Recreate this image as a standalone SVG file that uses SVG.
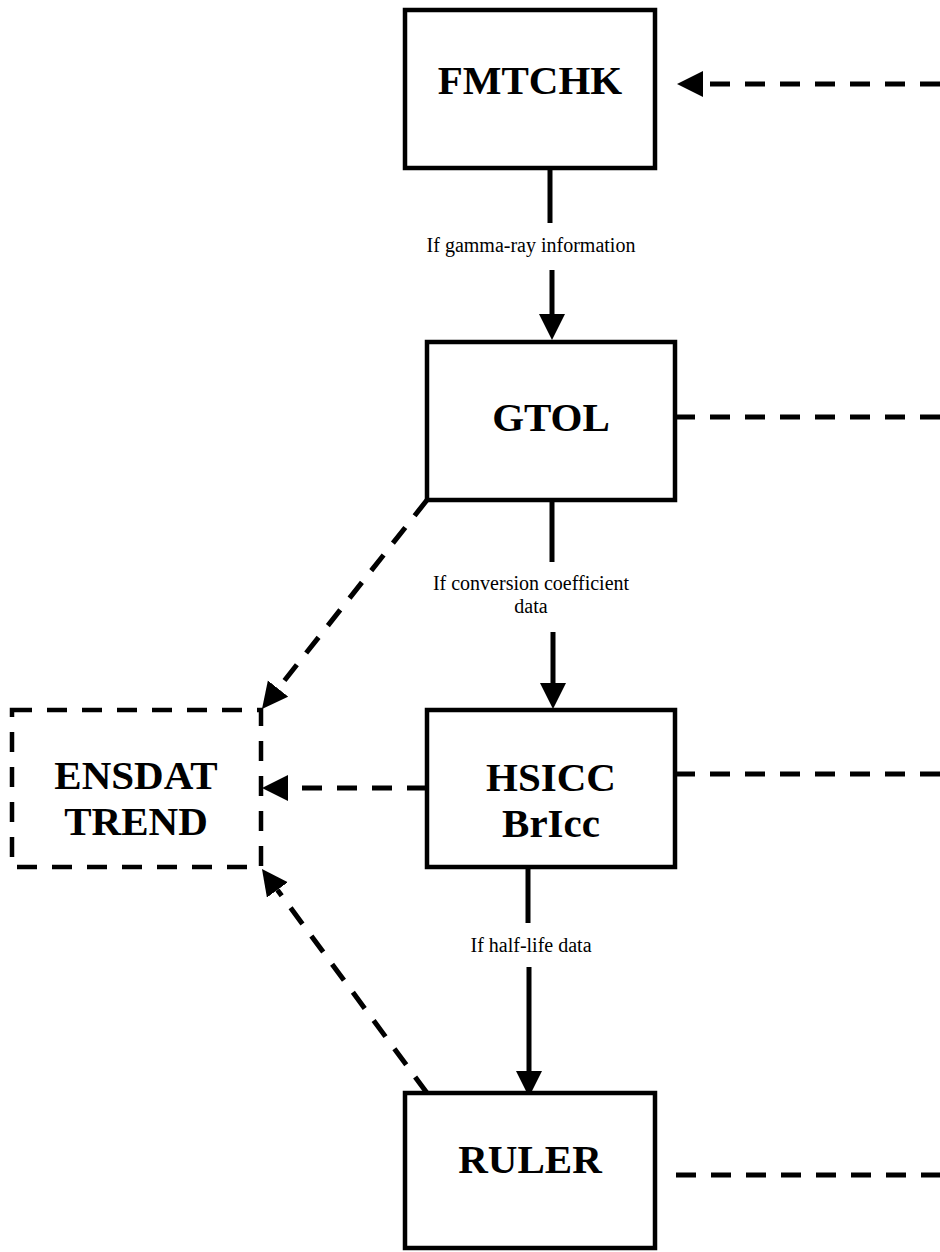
<svg xmlns="http://www.w3.org/2000/svg" width="940" height="1252" viewBox="0 0 940 1252">
<defs>
<style>
.box{fill:#fff;stroke:#000;stroke-width:4.5}
.dbox{fill:#fff;stroke:#000;stroke-width:4.5;stroke-dasharray:20 15}
.node{font-family:"Liberation Serif","Times New Roman",serif;font-weight:bold;font-size:41px;text-anchor:middle;fill:#000}
.lbl{font-family:"Liberation Serif","Times New Roman",serif;font-size:20px;text-anchor:middle;fill:#000}
.solid{fill:none;stroke:#000;stroke-width:5}
.dash{fill:none;stroke:#000;stroke-width:5;stroke-dasharray:20 15}
</style>
<marker id="ah" markerUnits="userSpaceOnUse" markerWidth="28" markerHeight="28" refX="0" refY="13" orient="auto">
<path d="M0,0 L26,13 L0,26 Z" fill="#000"/>
</marker>
</defs>
<rect width="940" height="1252" fill="#fff"/>
<g id="connectors">
<path class="dash" d="M940,84 L703,84" marker-end="url(#ah)"/>
<path class="solid" d="M550,168 L550,223"/>
<path class="solid" d="M552,270 L552,314" marker-end="url(#ah)"/>
<path class="dash" d="M675,417 L940,417"/>
<path class="dash" d="M427,500 L278.1,688.6" marker-end="url(#ah)"/>
<path class="solid" d="M552,500 L552,562"/>
<path class="solid" d="M553,632 L553,683" marker-end="url(#ah)"/>
<path class="dash" d="M427,788 L288,788" marker-end="url(#ah)"/>
<path class="dash" d="M675,774 L940,774"/>
<path class="solid" d="M528,867 L528,923"/>
<path class="solid" d="M529,967 L529,1071" marker-end="url(#ah)"/>
<path class="dash" d="M427,1093 L277.4,889.9" marker-end="url(#ah)"/>
<path class="dash" d="M676,1175 L940,1175"/>
<text class="lbl" x="531" y="252">If gamma-ray information</text>
<text class="lbl" x="531" y="590">If conversion coefficient</text>
<text class="lbl" x="531" y="613">data</text>
<text class="lbl" x="531" y="952">If half-life data</text>
</g>
<g id="FMTCHK">
<rect class="box" x="405" y="10" width="250" height="158"/>
<text class="node" x="530" y="94">FMTCHK</text>
</g>
<g id="GTOL">
<rect class="box" x="427" y="342" width="248" height="158"/>
<text class="node" x="551" y="431">GTOL</text>
</g>
<g id="HSICC">
<rect class="box" x="427" y="710" width="248" height="157"/>
<text class="node" x="551" y="791">HSICC</text>
<text class="node" x="551" y="837">BrIcc</text>
</g>
<g id="ENSDAT">
<rect class="dbox" x="12" y="710" width="249" height="157"/>
<text class="node" x="136" y="789">ENSDAT</text>
<text class="node" x="136" y="835">TREND</text>
</g>
<g id="RULER">
<rect class="box" x="405" y="1093" width="250" height="155"/>
<text class="node" x="530" y="1173">RULER</text>
</g>
</svg>
